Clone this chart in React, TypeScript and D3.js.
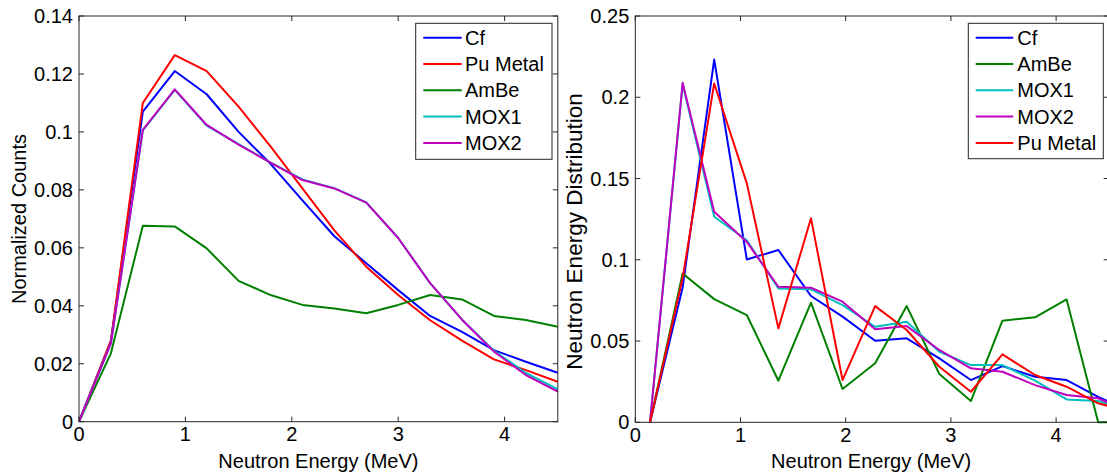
import React from "react";
import * as d3 from "d3";

// ---------- Left panel data ----------
const leftX = [0, 0.3, 0.6, 0.9, 1.2, 1.5, 1.8, 2.1, 2.4, 2.7, 3.0, 3.3, 3.6, 3.9, 4.2, 4.5];
const leftCf = [0, 0.028, 0.107, 0.121, 0.113, 0.1, 0.089, 0.0764, 0.064, 0.0547, 0.0454, 0.0365, 0.031, 0.0247, 0.0207, 0.0169];
const leftPu = [0, 0.028, 0.11, 0.1265, 0.121, 0.1087, 0.095, 0.0805, 0.066, 0.0535, 0.0437, 0.035, 0.028, 0.0215, 0.0178, 0.0138];
const leftAmBe = [0, 0.0236, 0.0676, 0.0674, 0.0598, 0.0486, 0.0437, 0.0403, 0.0391, 0.0374, 0.0403, 0.0437, 0.0422, 0.0365, 0.0351, 0.0328];
const leftMOX1 = [0, 0.027, 0.1005, 0.1145, 0.1022, 0.0958, 0.0894, 0.0836, 0.0806, 0.0757, 0.0634, 0.0478, 0.0352, 0.0245, 0.0168, 0.0112];
const leftMOX2 = [0, 0.027, 0.1007, 0.1147, 0.1024, 0.0956, 0.0894, 0.0834, 0.0805, 0.0756, 0.0634, 0.0478, 0.0352, 0.0242, 0.0161, 0.0104];
const leftYTicks = [0, 0.02, 0.04, 0.06, 0.08, 0.1, 0.12, 0.14];
const leftYLabels = ["0", "0.02", "0.04", "0.06", "0.08", "0.1", "0.12", "0.14"];

// ---------- Right panel data ----------
const rightX = [0.14, 0.45, 0.75, 1.06, 1.36, 1.67, 1.97, 2.28, 2.58, 2.89, 3.19, 3.49, 3.8, 4.1, 4.4, 4.5];
const rightCf = [0, 0.083, 0.2232, 0.1002, 0.106, 0.0777, 0.065, 0.0502, 0.0517, 0.0393, 0.026, 0.0346, 0.028, 0.026, 0.0157, 0.0127];
const rightAmBe = [0, 0.0916, 0.0758, 0.066, 0.0256, 0.0736, 0.0205, 0.0363, 0.0715, 0.0297, 0.0131, 0.0625, 0.0646, 0.0756, 0, 0];
const rightMOX1 = [0, 0.208, 0.1265, 0.112, 0.0824, 0.0818, 0.0721, 0.0588, 0.0619, 0.0434, 0.0352, 0.0352, 0.0256, 0.0141, 0.0131, 0.011];
const rightMOX2 = [0, 0.2089, 0.1295, 0.111, 0.0834, 0.0828, 0.0742, 0.0572, 0.0592, 0.0445, 0.0332, 0.0311, 0.0229, 0.0168, 0.0148, 0.012];
const rightPu = [0, 0.0887, 0.2085, 0.147, 0.0578, 0.1255, 0.026, 0.0715, 0.0568, 0.0342, 0.0188, 0.0418, 0.0291, 0.0219, 0.0117, 0.01];
const rightYTicks = [0, 0.05, 0.1, 0.15, 0.2, 0.25];
const rightYLabels = ["0", "0.05", "0.1", "0.15", "0.2", "0.25"];

const xTicks = [0, 1, 2, 3, 4];
const xTickLabels = ["0", "1", "2", "3", "4"];

const COLORS: Record<string, string> = {
  Cf: "#0000ff",
  "Pu Metal": "#ff0000",
  AmBe: "#008000",
  MOX1: "#00bfbf",
  MOX2: "#bf00bf",
};

const FONT = "'Liberation Sans', Arial, sans-serif";
const FS = 20;
const AXIS = "#262626";

type Series = { name: string; values: number[] };

function Panel(props: {
  left: number; right: number; top: number; bottom: number;
  xs: number[]; series: Series[]; legendOrder: string[];
  yMax: number; yTicks: number[]; yLabels: string[];
  yTitle: string; yTitleX: number; yTitleY: number; yTitleSize: number;
  legend: { x0: number; x1: number; y0: number; y1: number; lx0: number; lx1: number; tx: number };
  clipId: string;
}) {
  const { left, right, top, bottom, xs, series, yMax, yTicks, yLabels, legend } = props;
  const x = d3.scaleLinear().domain([0, 4.5]).range([left, right]);
  const y = d3.scaleLinear().domain([0, yMax]).range([bottom, top]);
  const line = d3.line<number>().x((_, i) => x(xs[i])).y((v) => y(v));
  const tl = 5;
  const rowY0 = legend.y0 + 14.4;
  const rowStep = 26.3;
  return (
    <g>
      <defs>
        <clipPath id={props.clipId}>
          <rect x={left} y={top - 2} width={right - left} height={bottom - top + 4} />
        </clipPath>
      </defs>
      <g clipPath={`url(#${props.clipId})`}>
        {series.map((s) => (
          <path key={s.name} d={line(s.values) || ""} fill="none" stroke={COLORS[s.name]} strokeWidth={2} strokeLinejoin="round" />
        ))}
      </g>
      <rect x={left} y={top} width={right - left} height={bottom - top} fill="none" stroke={AXIS} strokeWidth={1} />
      {xTicks.map((t, i) => (
        <g key={"xt" + i}>
          <line x1={x(t)} x2={x(t)} y1={bottom} y2={bottom - tl} stroke={AXIS} />
          <line x1={x(t)} x2={x(t)} y1={top} y2={top + tl} stroke={AXIS} />
          <text x={x(t)} y={bottom + 19.5} textAnchor="middle" fontFamily={FONT} fontSize={FS} fill="#000">{xTickLabels[i]}</text>
        </g>
      ))}
      {yTicks.map((t, i) => (
        <g key={"yt" + i}>
          <line x1={left} x2={left + tl} y1={y(t)} y2={y(t)} stroke={AXIS} />
          <line x1={right} x2={right - tl} y1={y(t)} y2={y(t)} stroke={AXIS} />
          <text x={left - 6} y={y(t) + 7} textAnchor="end" fontFamily={FONT} fontSize={FS} fill="#000">{yLabels[i]}</text>
        </g>
      ))}
      <text x={(left + Math.min(right, 1107)) / 2} y={468} textAnchor="middle" fontFamily={FONT} fontSize={FS} fill="#000">Neutron Energy (MeV)</text>
      <text transform={`translate(${props.yTitleX},${props.yTitleY}) rotate(-90)`} textAnchor="middle" fontFamily={FONT} fontSize={props.yTitleSize} fill="#000">{props.yTitle}</text>
      <rect x={legend.x0} y={legend.y0} width={legend.x1 - legend.x0} height={legend.y1 - legend.y0} fill="#fff" stroke={AXIS} strokeWidth={1} />
      {props.legendOrder.map((name, i) => (
        <g key={"lg" + name}>
          <line x1={legend.lx0} x2={legend.lx1} y1={rowY0 + i * rowStep} y2={rowY0 + i * rowStep} stroke={COLORS[name]} strokeWidth={2} />
          <text x={legend.tx} y={rowY0 + i * rowStep + 7} fontFamily={FONT} fontSize={FS} fill="#000">{name}</text>
        </g>
      ))}
    </g>
  );
}

export default function App() {
  const leftSeries: Series[] = [
    { name: "Cf", values: leftCf },
    { name: "Pu Metal", values: leftPu },
    { name: "AmBe", values: leftAmBe },
    { name: "MOX1", values: leftMOX1 },
    { name: "MOX2", values: leftMOX2 },
  ];
  const rightSeries: Series[] = [
    { name: "Cf", values: rightCf },
    { name: "AmBe", values: rightAmBe },
    { name: "MOX1", values: rightMOX1 },
    { name: "MOX2", values: rightMOX2 },
    { name: "Pu Metal", values: rightPu },
  ];
  return (
    <svg width={1107} height={473} style={{ position: "absolute", left: 0, top: 0, background: "#fff" }}>
      <rect x={0} y={0} width={1107} height={473} fill="#fff" />
      <Panel
        left={79} right={557.8} top={16} bottom={421.7}
        xs={leftX} series={leftSeries} legendOrder={["Cf", "Pu Metal", "AmBe", "MOX1", "MOX2"]}
        yMax={0.14} yTicks={leftYTicks} yLabels={leftYLabels}
        yTitle="Normalized Counts" yTitleX={25.5} yTitleY={219} yTitleSize={20}
        legend={{ x0: 415.7, x1: 552, y0: 23.3, y1: 159.3, lx0: 423.3, lx1: 461.7, tx: 465 }}
        clipId="clipL"
      />
      <Panel
        left={635.3} right={1108.7} top={16} bottom={422.3}
        xs={rightX} series={rightSeries} legendOrder={["Cf", "AmBe", "MOX1", "MOX2", "Pu Metal"]}
        yMax={0.25} yTicks={rightYTicks} yLabels={rightYLabels}
        yTitle="Neutron Energy Distribution" yTitleX={581.5} yTitleY={231.5} yTitleSize={22.5}
        legend={{ x0: 968.3, x1: 1103.3, y0: 23.3, y1: 158.7, lx0: 975.7, lx1: 1013.3, tx: 1017.3 }}
        clipId="clipR"
      />
    </svg>
  );
}
